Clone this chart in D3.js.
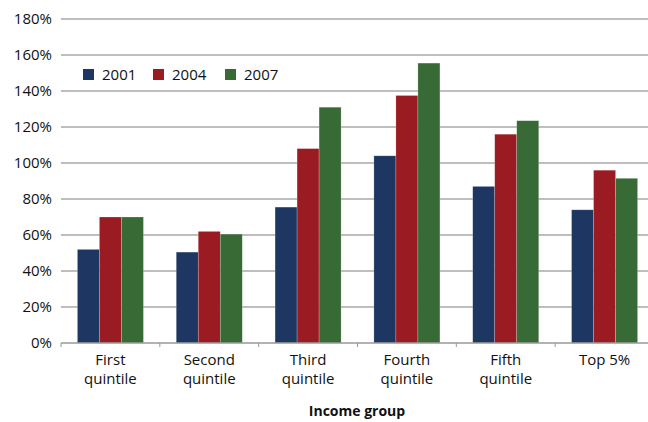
<!DOCTYPE html>
<html>
<head>
<meta charset="utf-8">
<script src="https://cdn.jsdelivr.net/npm/d3@7"></script>
<style>
  html, body { margin: 0; padding: 0; background: #fff; overflow: hidden; }
  svg { display: block; }
  text { font-family: "Open Sans", "Noto Sans", sans-serif; fill: #111; }
</style>
</head>
<body>
<svg id="chart" width="648" height="422"></svg>
<script>
const categories = [["First", "quintile"], ["Second", "quintile"], ["Third", "quintile"], ["Fourth", "quintile"], ["Fifth", "quintile"], ["Top 5%"]];
const seriesNames = ["2001", "2004", "2007"];
const values2001 = [52, 50.5, 75.5, 104, 87, 74];
const values2004 = [70, 62, 108, 137.5, 116, 96];
const values2007 = [70, 60.5, 131, 155.5, 123.5, 91.5];
const yTicks = [0, 20, 40, 60, 80, 100, 120, 140, 160, 180];
const colors = ["#1d3762", "#9a1b21", "#376a35"];
const xTitle = "Income group";

(function () {
const series = [values2001, values2004, values2007];
const svg = d3.select("#chart");

const mLeft = 61, mRight = 648, bandRight = 654, mTop = 19, mBottom = 343;

const x = d3.scaleBand().domain(d3.range(categories.length)).range([mLeft, bandRight]).paddingInner(0.332).paddingOuter(0.166);
const xs = d3.scaleBand().domain(d3.range(seriesNames.length)).range([0, x.bandwidth()]);
const y = d3.scaleLinear().domain([0, 180]).range([mBottom, mTop]);

// gridlines
svg.append("g").selectAll("line").data(yTicks.filter(t => t > 0)).join("line")
  .attr("x1", mLeft).attr("x2", mRight)
  .attr("y1", d => y(d)).attr("y2", d => y(d))
  .attr("stroke", "#a9a9a9").attr("stroke-width", 1.5);

// y tick labels
svg.append("g").selectAll("text").data(yTicks).join("text")
  .attr("x", 52).attr("y", d => y(d)).attr("dy", "0.35em")
  .attr("text-anchor", "end").attr("font-size", 15)
  .text(d => d + "%");

// bars
const groups = svg.append("g").selectAll("g").data(categories).join("g")
  .attr("transform", (d, i) => `translate(${x(i)},0)`);
groups.selectAll("rect").data((d, i) => series.map((s, j) => ({ j, v: s[i] }))).join("rect")
  .attr("x", d => xs(d.j)).attr("width", xs.bandwidth())
  .attr("y", d => y(d.v)).attr("height", d => y(0) - y(d.v))
  .attr("fill", d => colors[d.j])
  .attr("stroke", "rgba(255,255,255,0.35)").attr("stroke-width", 0.6);

// baseline
svg.append("line").attr("x1", mLeft).attr("x2", mRight).attr("y1", y(0)).attr("y2", y(0))
  .attr("stroke", "#999").attr("stroke-width", 1.5);

// x axis ticks (category boundaries)
const step = x.step();
const tickXs = d3.range(categories.length + 1).map(i => x(0) - x.paddingOuter() * step + i * step);
svg.append("g").selectAll("line").data(tickXs.filter(t => t <= mRight)).join("line")
  .attr("x1", d => d).attr("x2", d => d)
  .attr("y1", y(0)).attr("y2", y(0) + 4)
  .attr("stroke", "#999").attr("stroke-width", 1);

// category labels
const lab = svg.append("g").selectAll("text").data(categories).join("text")
  .attr("x", (d, i) => x(i) + x.bandwidth() / 2)
  .attr("y", 365)
  .attr("text-anchor", "middle").attr("font-size", 15);
lab.selectAll("tspan").data(d => d).join("tspan")
  .attr("x", function () { return d3.select(this.parentNode).attr("x"); })
  .attr("dy", (d, i) => i === 0 ? 0 : 19)
  .text(d => d);

// x title
svg.append("text").attr("x", 357).attr("y", 416).attr("text-anchor", "middle")
  .attr("font-size", 14).attr("font-weight", "bold").text(xTitle);

// legend
const legendX = [83, 153, 225];
const lg = svg.append("g").selectAll("g").data(seriesNames).join("g")
  .attr("transform", (d, i) => `translate(${legendX[i]},69)`);
lg.append("rect").attr("width", 11).attr("height", 11).attr("fill", (d, i) => colors[i]);
lg.append("text").attr("x", 19).attr("y", 11).attr("font-size", 15).text(d => d);
})();
</script>
</body>
</html>
